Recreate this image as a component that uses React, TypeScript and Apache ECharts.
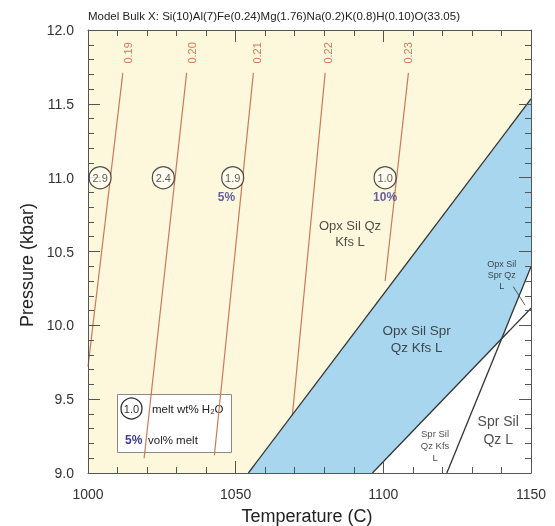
import React, { useEffect, useRef } from "react";
import * as echarts from "echarts";

// ---- data ----
const titleText = "Model Bulk X: Si(10)Al(7)Fe(0.24)Mg(1.76)Na(0.2)K(0.8)H(0.10)O(33.05)";
const xTicks = [1000, 1050, 1100, 1150];
const yTicks = [9.0, 9.5, 10.0, 10.5, 11.0, 11.5, 12.0];

// isopleths (melt mol fraction labels)
const isoLabels = ["0.19", "0.20", "0.21", "0.22", "0.23"];
const isoTopT = [1011.8, 1033.4, 1056.0, 1080.3, 1108.5];
const isoTopP = [11.71, 11.71, 11.71, 11.71, 11.71];
const isoBottomT = [1000.0, 1019.0, 1042.8, 1069.2, 1100.6];
const isoBottomP = [9.72, 9.1, 9.12, 9.39, 10.3];
const isoLabelT = [1013.4, 1035.1, 1057.1, 1081.4, 1108.5];
const isoLabelP = 11.845;

// melt wt% H2O circles
const circleLabels = ["2.9", "2.4", "1.9", "1.0"];
const circleT = [1004.1, 1025.5, 1049.0, 1100.6];
const circleP = 11.0;

// vol% melt
const volLabels = ["5%", "10%"];
const volT = [1046.9, 1100.6];
const volP = 10.87;

// phase boundaries [T, P]
const upperBoundary = [[1054.3, 9.0], [1150, 11.533]];
const lowerBoundary = [[1096.3, 9.0], [1150, 10.116]];
const steepBoundary = [[1121.5, 9.0], [1150, 10.397]];
const leaderLine = [[1144.0, 10.262], [1148.0, 10.136]];

// field labels
const fieldLabels = ["Opx Sil Qz\nKfs L", "Opx Sil Spr\nQz Kfs L", "Opx Sil\nSpr Qz\nL", "Spr Sil\nQz L", "Spr Sil\nQz Kfs\nL"];
const fieldT = [1088.7, 1111.3, 1140.1, 1138.9, 1117.5];
const fieldP = [10.619, 9.91, 10.338, 9.289, 9.188];
const fieldFont = [13, 13.5, 9, 14, 9.5];

function intersect(a: number[][], b: number[][]): number[] {
  const [x1, y1] = a[0], [x2, y2] = a[1], [x3, y3] = b[0], [x4, y4] = b[1];
  const d = (x1 - x2) * (y3 - y4) - (y1 - y2) * (x3 - x4);
  const t = ((x1 - x3) * (y3 - y4) - (y1 - y3) * (x3 - x4)) / d;
  return [x1 + t * (x2 - x1), y1 + t * (y2 - y1)];
}

const FONT = "Liberation Sans, Arial, sans-serif";
const CREAM = "#fdf8dc";
const BLUE = "#a8d6ef";
const ISO = "#c97b58";
const ISO_TXT = "#bf5a3c";
const PURPLE = "#3c3a94";

export default function App() {
  const ref = useRef<HTMLDivElement>(null);
  useEffect(() => {
    if (!ref.current) return;
    const chart = echarts.init(ref.current, null, { renderer: "svg" });
    const X = intersect(lowerBoundary, steepBoundary);
    const bluePoly = [upperBoundary[0], upperBoundary[1], steepBoundary[1], X, lowerBoundary[0]];
    const whitePoly = [lowerBoundary[0], X, steepBoundary[1], [1150, 9.0]];

    const polySeries = (pts: number[][], color: string, z: number) => ({
      type: "custom",
      z,
      silent: true,
      data: [[1100, 10]],
      renderItem: (_p: any, api: any) => ({
        type: "polygon",
        shape: { points: pts.map((p) => api.coord(p)) },
        style: { fill: color, stroke: "none" },
      }),
    });

    const lineSeries = (pts: number[][], color: string, width: number, z: number) => ({
      type: "line",
      data: pts,
      symbol: "none",
      z,
      silent: true,
      lineStyle: { color, width },
    });

    const axisCommon = {
      splitLine: { show: false },
      axisLine: { show: true, lineStyle: { color: "#555", width: 1 } },
      axisTick: { show: true, inside: true, length: 12, lineStyle: { color: "#555" } },
      minorTick: { show: true, splitNumber: 5, length: 6, lineStyle: { color: "#555" } },
      z: 6,
    };

    const option: any = {
      animation: false,
      textStyle: { fontFamily: FONT },
      title: {
        text: titleText,
        left: 83,
        top: 5,
        textStyle: { fontSize: 11.5, fontWeight: "normal", color: "#222", fontFamily: FONT },
      },
      grid: { left: 88, right: 24, top: 30, bottom: 53, show: true, backgroundColor: CREAM, borderWidth: 0 },
      xAxis: [
        {
          ...axisCommon,
          type: "value",
          min: xTicks[0],
          max: xTicks[xTicks.length - 1],
          interval: 50,
          position: "bottom",
          axisLabel: { fontSize: 14, color: "#333", margin: 14, fontFamily: FONT, formatter: (v: number) => String(v) },
        },
        {
          ...axisCommon,
          type: "value",
          min: xTicks[0],
          max: xTicks[xTicks.length - 1],
          interval: 50,
          position: "top",
          axisLabel: { show: false },
        },
      ],
      yAxis: [
        {
          ...axisCommon,
          type: "value",
          min: yTicks[0],
          max: yTicks[yTicks.length - 1],
          interval: 0.5,
          position: "left",
          axisLabel: { fontSize: 14, color: "#333", margin: 14, fontFamily: FONT, formatter: (v: number) => v.toFixed(1) },
        },
        {
          ...axisCommon,
          type: "value",
          min: yTicks[0],
          max: yTicks[yTicks.length - 1],
          interval: 0.5,
          position: "right",
          axisLabel: { show: false },
        },
      ],
      series: [
        polySeries(bluePoly, BLUE, 1),
        polySeries(whitePoly, "#ffffff", 1),
        ...isoLabels.map((_, i) =>
          lineSeries([[isoTopT[i], isoTopP[i]], [isoBottomT[i], isoBottomP[i]]], ISO, 1.2, 2)
        ),
        lineSeries(upperBoundary, "#333", 1.3, 3),
        lineSeries(lowerBoundary, "#333", 1.3, 3),
        lineSeries(steepBoundary, "#333", 1.3, 3),
        lineSeries(leaderLine, "#333", 0.8, 3),
        {
          type: "scatter",
          z: 8,
          silent: true,
          symbolSize: 1,
          itemStyle: { color: "rgba(0,0,0,0)" },
          data: isoLabels.map((l, i) => ({ name: l, value: [isoLabelT[i], isoLabelP] })),
          label: {
            show: true,
            position: "inside",
            rotate: 90,
            formatter: (p: any) => p.name,
            fontSize: 11,
            color: ISO_TXT,
            fontFamily: FONT,
          },
        },
        {
          type: "scatter",
          z: 8,
          silent: true,
          symbol: "circle",
          symbolSize: 22,
          itemStyle: { color: "#fffdf3", borderColor: "#222", borderWidth: 1.2 },
          data: circleLabels.map((l, i) => ({ name: l, value: [circleT[i], circleP] })),
          label: {
            show: true,
            position: "inside",
            formatter: (p: any) => p.name,
            fontSize: 11,
            color: "#333",
            fontFamily: FONT,
          },
        },
        {
          type: "scatter",
          z: 8,
          silent: true,
          symbolSize: 1,
          itemStyle: { color: "rgba(0,0,0,0)" },
          data: volLabels.map((l, i) => ({ name: l, value: [volT[i], volP] })),
          label: {
            show: true,
            position: "inside",
            formatter: (p: any) => p.name,
            fontSize: 12,
            fontWeight: "bold",
            color: PURPLE,
            fontFamily: FONT,
          },
        },
        {
          type: "scatter",
          z: 8,
          silent: true,
          symbolSize: 1,
          itemStyle: { color: "rgba(0,0,0,0)" },
          data: fieldLabels.map((l, i) => ({
            name: l,
            value: [fieldT[i], fieldP[i]],
            label: { fontSize: fieldFont[i], lineHeight: Math.round(fieldFont[i] * 1.25) },
          })),
          label: {
            show: true,
            position: "inside",
            align: "center",
            formatter: (p: any) => p.name,
            color: "#222",
            fontFamily: FONT,
          },
        },
      ],
      graphic: [
        {
          type: "group",
          z: 20,
          children: [
            { type: "rect", shape: { x: 117.5, y: 394.5, width: 114, height: 58 }, style: { fill: "#ffffff", stroke: "#8a8a8a", lineWidth: 1 } },
            { type: "circle", shape: { cx: 131.5, cy: 408.5, r: 10.5 }, style: { fill: "#ffffff", stroke: "#222", lineWidth: 1.2 } },
            { type: "text", x: 131.5, y: 408.5, style: { text: "1.0", fontSize: 11, fill: "#333", align: "center", verticalAlign: "middle", fontFamily: FONT } },
            { type: "text", x: 152, y: 408.5, style: { text: "melt wt% H\u2082O", fontSize: 11.5, fill: "#222", align: "left", verticalAlign: "middle", fontFamily: FONT } },
            { type: "text", x: 125, y: 439.5, style: { text: "5%", fontSize: 12, fontWeight: "bold", fill: PURPLE, align: "left", verticalAlign: "middle", fontFamily: FONT } },
            { type: "text", x: 148, y: 439.5, style: { text: "vol% melt", fontSize: 11.5, fill: "#222", align: "left", verticalAlign: "middle", fontFamily: FONT } },
          ],
        },
        { type: "text", x: 307, y: 516, style: { text: "Temperature (C)", fontSize: 18, fill: "#222", align: "center", verticalAlign: "middle", fontFamily: FONT } },
        { type: "text", x: 27, y: 265, rotation: Math.PI / 2, style: { text: "Pressure (kbar)", fontSize: 18, fill: "#222", align: "center", verticalAlign: "middle", fontFamily: FONT } },
      ],
    };
    chart.setOption(option);
    return () => chart.dispose();
  }, []);
  return <div ref={ref} style={{ position: "fixed", left: 0, top: 0, width: 555, height: 526 }} />;
}
